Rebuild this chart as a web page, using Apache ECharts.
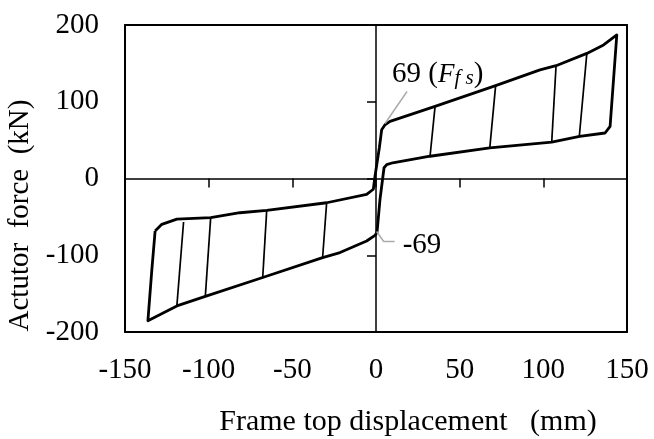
<!DOCTYPE html>
<html><head><meta charset="utf-8">
<script src="https://cdn.jsdelivr.net/npm/echarts@6/dist/echarts.min.js"></script>
<style>html,body{margin:0;padding:0;background:#fff}#c{width:654px;height:439px}</style>
</head><body><div id="c"></div>
<script>
// ---- data (displacement mm, force kN) ----
const xTickValues = [-150, -100, -50, 0, 50, 100, 150];
const yTickValues = [-200, -100, 0, 100, 200];

// outer hysteresis envelope, traversed in loading order
const loopDisp = [
  -132, -128, -119, -98.8, -81.3, -65.3, -29.5, -5.6, -1.6,
  -0.6, 2, 3.4, 5.4,
  8.4, 35.3, 71.5, 98, 107.6, 126, 136, 143.9,
  139.9, 136.9, 121.7, 105, 68, 32.3, 10, 6.4,
  4.8, 2.4, 0.6,
  -0.6, -5.6, -21.5, -31.9, -67.7, -102, -119, -136.3,
  -134, -132
];
const loopForce = [
  -68.4, -59.7, -53, -51, -44.6, -41.5, -31.6, -20.8, -14,
  3, 40, 63.6, 70,
  74.4, 94, 121, 141.6, 147, 163, 174, 187,
  68, 59.3, 55, 47.5, 40, 29, 20.5, 18,
  14, -27, -70.6,
  -74, -81.4, -96.5, -103, -129, -153.6, -166, -185.3,
  -120, -68.4
];

// inner unloading lines of the smaller cycles: [start, end]
const innerDisp = [
  [35.3, 32.3], [71.5, 68], [107.6, 105], [126, 121.5],
  [-119, -115], [-102, -98.8], [-67.7, -65.3], [-31.9, -29.5]
];
const innerForce = [
  [94, 29], [121, 40], [147, 47], [163, 55],
  [-166, -56.7], [-153.6, -51], [-129, -41], [-103, -31.6]
];

// friction slip force annotations
const slipPos = [5.4, 69];
const slipNeg = [0.4, -69];
const slipLabels = ['69', '-69'];

// ---- chart ----
const FONT = 'Liberation Serif';
const FS = 29;
const chart = echarts.init(document.getElementById('c'), null, {renderer: 'canvas'});

const series = [{
  type: 'line', xAxisIndex: 0, yAxisIndex: 0,
  data: loopDisp.map((x, i) => [x, loopForce[i]]),
  showSymbol: false, smooth: false, animation: false, z: 5,
  lineStyle: {color: '#000', width: 2.8, join: 'round'}
}];
innerDisp.forEach((d, k) => {
  series.push({
    type: 'line', xAxisIndex: 0, yAxisIndex: 0,
    data: d.map((x, i) => [x, innerForce[k][i]]),
    showSymbol: false, animation: false, z: 4,
    lineStyle: {color: '#000', width: 1.7}
  });
});

const xBase = {type: 'value', min: -150, max: 150, interval: 50, splitLine: {show: false}};
const yBase = {type: 'value', min: -200, max: 200, interval: 100, splitLine: {show: false}};

chart.setOption({
  animation: false,
  backgroundColor: '#fff',
  grid: {left: 125, right: 27, top: 25, bottom: 107, containLabel: false, outerBoundsMode: 'none'},
  xAxis: [
    Object.assign({}, xBase, {
      position: 'bottom',
      axisLine: {onZero: false, lineStyle: {color: '#000', width: 2}},
      axisTick: {show: false},
      axisLabel: {color: '#000', fontFamily: FONT, fontSize: FS, margin: 24,
        formatter: v => xTickValues.includes(v) ? String(v) : ''},
      name: 'Frame top displacement   (mm)', nameLocation: 'middle', nameGap: 75,
      nameTextStyle: {color: '#000', fontFamily: FONT, fontSize: 30, padding: [0, 0, 0, 64]}
    }),
    Object.assign({}, xBase, {
      position: 'bottom',
      axisLine: {onZero: true, onZeroAxisIndex: 0, lineStyle: {color: '#000', width: 1.5}},
      axisTick: {show: true, length: 9, lineStyle: {color: '#000', width: 1.5}},
      axisLabel: {show: false}
    }),
    Object.assign({}, xBase, {
      position: 'top',
      axisLine: {onZero: false, lineStyle: {color: '#000', width: 2}},
      axisTick: {show: false}, axisLabel: {show: false}
    })
  ],
  yAxis: [
    Object.assign({}, yBase, {
      position: 'left',
      axisLine: {onZero: false, lineStyle: {color: '#000', width: 2}},
      axisTick: {show: false},
      axisLabel: {color: '#000', fontFamily: FONT, fontSize: FS, margin: 26,
        formatter: v => yTickValues.includes(v) ? String(v) : ''},
      name: 'Actutor  force  (kN)', nameLocation: 'middle', nameGap: 90, nameRotate: 90,
      nameTextStyle: {color: '#000', fontFamily: FONT, fontSize: FS, padding: [0, 74, 0, 0]}
    }),
    Object.assign({}, yBase, {
      position: 'left',
      axisLine: {onZero: true, onZeroAxisIndex: 0, lineStyle: {color: '#000', width: 1.5}},
      axisTick: {show: true, length: 9, lineStyle: {color: '#000', width: 1.5}},
      axisLabel: {show: false}
    }),
    Object.assign({}, yBase, {
      position: 'right',
      axisLine: {onZero: false, lineStyle: {color: '#000', width: 2}},
      axisTick: {show: false}, axisLabel: {show: false}
    })
  ],
  series: series
});

// annotations anchored to data coordinates
const pPos = chart.convertToPixel({xAxisIndex: 0, yAxisIndex: 0}, slipPos);
const pNeg = chart.convertToPixel({xAxisIndex: 0, yAxisIndex: 0}, slipNeg);
chart.setOption({
  graphic: [
    {type: 'polyline', z: 10, shape: {points: [[pPos[0], pPos[1] - 2], [pPos[0] + 22, pPos[1] - 34]]},
      style: {stroke: '#aaa', lineWidth: 1.5, fill: null}},
    {type: 'text', z: 10, x: pPos[0] + 7, y: pPos[1] - 71,
      style: {
        text: '{n|' + slipLabels[0] + '}{p| (}{i|F}{s|f s}{p|)}',
        verticalAlign: 'top',
        rich: {
          n: {fontFamily: FONT, fontSize: 29, fill: '#000', verticalAlign: 'bottom', lineHeight: 34},
          p: {fontFamily: FONT, fontSize: 29, fill: '#000', verticalAlign: 'bottom', lineHeight: 34},
          i: {fontFamily: FONT, fontSize: 27, fontStyle: 'italic', fill: '#000', verticalAlign: 'bottom', lineHeight: 34},
          s: {fontFamily: FONT, fontSize: 21, fontStyle: 'italic', fill: '#000', verticalAlign: 'bottom', lineHeight: 20}
        }
      }},
    {type: 'polyline', z: 10, shape: {points: [[pNeg[0], pNeg[1]], [pNeg[0] + 7, pNeg[1] + 10], [pNeg[0] + 18, pNeg[1] + 10]]},
      style: {stroke: '#aaa', lineWidth: 1.5, fill: null}},
    {type: 'text', z: 10, x: pNeg[0] + 26, y: pNeg[1] + 14,
      style: {text: slipLabels[1], fontFamily: FONT, fontSize: 29, fill: '#000', verticalAlign: 'middle', align: 'left'}}
  ]
});
</script>
</body></html>
